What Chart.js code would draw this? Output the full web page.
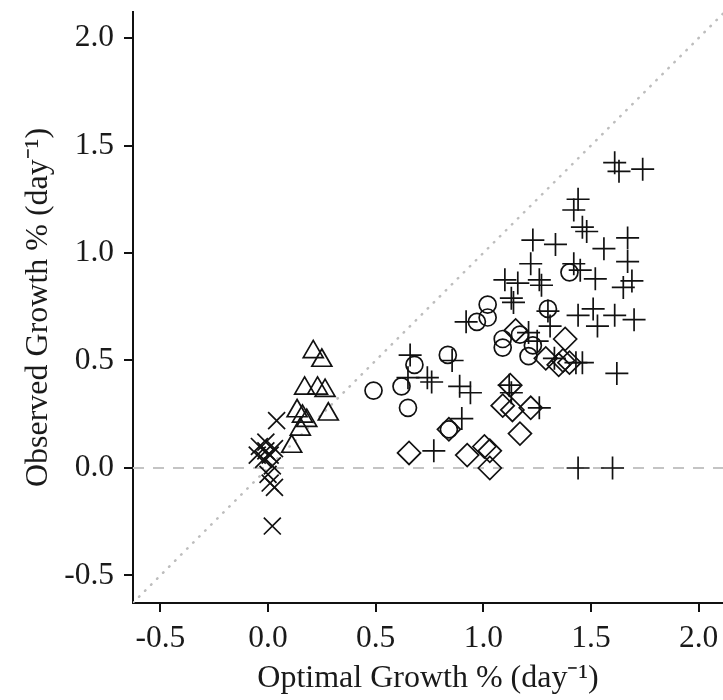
<!DOCTYPE html>
<html>
<head>
<meta charset="utf-8">
<script src="https://cdn.jsdelivr.net/npm/chart.js@4/dist/chart.umd.min.js"></script>
<style>
  html, body { margin: 0; padding: 0; background: #ffffff; }
  canvas { display: block; }
</style>
</head>
<body>
<canvas id="chart" width="723" height="700"></canvas>
<script>
// Axis ticks and ranges
const xTicks = [-0.5, 0.0, 0.5, 1.0, 1.5, 2.0];
const yTicks = [-0.5, 0.0, 0.5, 1.0, 1.5, 2.0];
const xRange = [-0.627, 2.113];
const yRange = [-0.628, 2.121];

// Group drawn with "x" markers
const groupXx = [0.04, 0.02, -0.04, -0.01, 0.01, -0.05, -0.02, 0.02, 0.00, 0.01, 0.03, -0.01, 0.03];
const groupXy = [0.22, -0.27, 0.10, 0.08, 0.06, 0.06, 0.04, 0.01, -0.03, -0.07, -0.09, 0.12, 0.09];

// Group drawn with triangles
const groupTx = [0.21, 0.25, 0.17, 0.23, 0.265, 0.28, 0.135, 0.16, 0.18, 0.15, 0.11];
const groupTy = [0.54, 0.50, 0.37, 0.37, 0.36, 0.25, 0.265, 0.24, 0.22, 0.18, 0.10];

// Group drawn with circles
const groupCx = [0.49, 0.62, 0.65, 0.68, 0.835, 0.84, 0.97, 1.02, 1.02, 1.09, 1.09, 1.17, 1.23, 1.21, 1.30, 1.40];
const groupCy = [0.36, 0.38, 0.28, 0.48, 0.526, 0.18, 0.68, 0.76, 0.70, 0.60, 0.56, 0.62, 0.57, 0.52, 0.74, 0.91];

// Group drawn with diamonds
const groupDx = [0.655, 0.84, 0.925, 1.005, 1.03, 1.03, 1.09, 1.135, 1.125, 1.22, 1.17, 1.15, 1.38, 1.29, 1.37, 1.40, 1.35];
const groupDy = [0.07, 0.18, 0.06, 0.10, 0.08, 0.00, 0.29, 0.27, 0.385, 0.28, 0.16, 0.64, 0.60, 0.51, 0.50, 0.49, 0.48];

// Group drawn with plus markers
const groupPx = [1.61, 1.63, 1.74, 1.44, 1.42, 1.46, 1.48, 1.56, 1.67, 1.67,
                 1.45, 1.52, 1.65, 1.69, 1.44, 1.51, 1.53, 1.61, 1.70, 1.46,
                 1.62, 1.44, 1.60, 1.23, 1.335, 1.22, 1.10, 1.16, 1.26, 1.27,
                 1.13, 1.14, 1.21, 1.31, 0.66, 0.65, 0.74, 0.76, 0.855, 0.89,
                 0.94, 0.90, 0.77, 1.12, 1.13, 1.26, 0.92, 1.25, 1.33, 1.43,
                 1.30, 1.42];
const groupPy = [1.42, 1.38, 1.39, 1.25, 1.20, 1.12, 1.10, 1.02, 1.07, 0.96,
                 0.92, 0.88, 0.84, 0.87, 0.71, 0.74, 0.66, 0.71, 0.69, 0.49,
                 0.44, 0.00, 0.00, 1.06, 1.04, 0.95, 0.875, 0.86, 0.875, 0.85,
                 0.79, 0.77, 0.63, 0.66, 0.525, 0.42, 0.42, 0.40, 0.50, 0.38,
                 0.35, 0.23, 0.08, 0.385, 0.35, 0.28, 0.68, 0.59, 0.51, 0.49,
                 0.73, 0.95];

const toPoints = (xs, ys) => xs.map((x, i) => ({ x: x, y: ys[i] }));

const ink = '#111111';
const serif = 'Liberation Serif, Times New Roman, serif';
const none = 'rgba(0,0,0,0)';

function markerSet(label, xs, ys, style, radius) {
  return {
    type: 'scatter',
    label: label,
    data: toPoints(xs, ys),
    pointStyle: style,
    pointRadius: radius,
    pointHoverRadius: radius,
    pointBorderColor: ink,
    pointBackgroundColor: none,
    pointBorderWidth: 1.7,
    borderColor: ink,
    backgroundColor: none,
    order: 1
  };
}

const datasets = [
  markerSet('x', groupXx, groupXy, 'crossRot', 12),
  markerSet('triangle', groupTx, groupTy, 'triangle', 11.5),
  markerSet('circle', groupCx, groupCy, 'circle', 8.5),
  markerSet('diamond', groupDx, groupDy, 'rectRot', 11.5),
  markerSet('plus', groupPx, groupPy, 'cross', 11.5),
  {
    // 1:1 reference line
    type: 'line',
    label: 'one-to-one',
    data: [{ x: xRange[0], y: xRange[0] }, { x: yRange[1], y: yRange[1] }],
    borderColor: '#bdbdbd',
    borderWidth: 2.5,
    borderDash: [0.5, 8],
    borderCapStyle: 'round',
    pointRadius: 0,
    fill: false,
    order: 10
  },
  {
    // zero-growth line
    type: 'line',
    label: 'zero',
    data: [{ x: xRange[0], y: 0 }, { x: xRange[1], y: 0 }],
    borderColor: '#c4c4c4',
    borderWidth: 2,
    borderDash: [11, 9],
    pointRadius: 0,
    fill: false,
    order: 10
  }
];

function axisCommon(ticks, range, titleText) {
  return {
    type: 'linear',
    min: range[0],
    max: range[1],
    afterBuildTicks: (scale) => { scale.ticks = ticks.map(v => ({ value: v })); },
    border: { display: true, color: ink, width: 2 },
    grid: { drawOnChartArea: false, drawTicks: true, tickLength: 9, color: ink, lineWidth: 2 },
    ticks: {
      font: { family: serif, size: 31.5 },
      color: '#1a1a1a',
      maxRotation: 0,
      autoSkip: false,
      callback: (v) => Number(v).toFixed(1)
    },
    title: {
      display: true,
      text: titleText,
      font: { family: serif, size: 32 },
      color: '#1a1a1a'
    }
  };
}

// keep the plot area flush with the fixed axis boxes
function noEdgePadding(scale) {
  scale.paddingTop = 0;
  scale.paddingBottom = 0;
  scale.paddingLeft = 0;
  scale.paddingRight = 0;
}

const xAxis = axisCommon(xTicks, xRange, 'Optimal Growth % (day\u207B\u00B9)');
xAxis.position = 'bottom';
xAxis.ticks.padding = 8;
xAxis.title.padding = { top: 0, bottom: 2 };
xAxis.afterFit = (scale) => { scale.height = 97; noEdgePadding(scale); };

const yAxis = axisCommon(yTicks, yRange, 'Observed Growth % (day\u207B\u00B9)');
yAxis.position = 'left';
yAxis.ticks.padding = 10;
yAxis.title.padding = { top: 19, bottom: 0 };
yAxis.afterFit = (scale) => { scale.width = 133; noEdgePadding(scale); };

new Chart(document.getElementById('chart'), {
  type: 'scatter',
  data: { datasets: datasets },
  options: {
    responsive: false,
    animation: false,
    devicePixelRatio: 1,
    layout: { autoPadding: false, padding: { top: 12, right: 0, bottom: 0, left: 0 } },
    plugins: { legend: { display: false }, tooltip: { enabled: false } },
    scales: { x: xAxis, y: yAxis }
  }
});
</script>
</body>
</html>
